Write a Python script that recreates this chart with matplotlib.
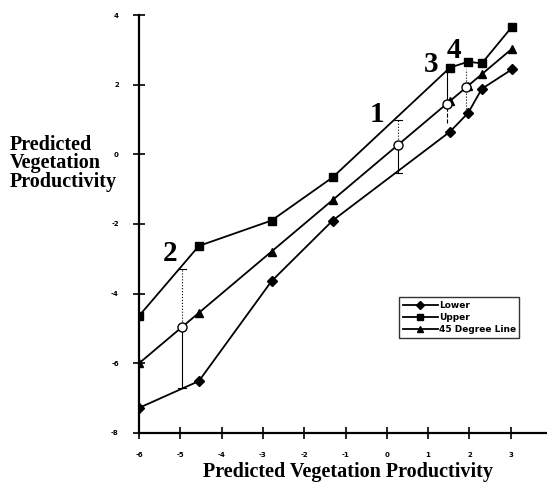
import matplotlib
matplotlib.use("Agg")
import matplotlib.pyplot as plt

# readings
x = [-6.0, -4.55, -2.79, -1.31, 1.53, 1.97, 2.30, 3.03]
lower = [-7.28, -6.51, -3.64, -1.90, 0.65, 1.19, 1.88, 2.44]
upper = [-4.64, -2.63, -1.90, -0.66, 2.49, 2.66, 2.61, 3.66]
deg45 = [-6.0, -4.55, -2.79, -1.31, 1.53, 1.97, 2.30, 3.03]

# numbered intervals: label, x, midpoint, top, bottom
iv_labels = ["2", "1", "3", "4"]
iv_x = [-4.95, 0.28, 1.45, 1.92]
iv_mid = [-4.95, 0.28, 1.45, 1.92]
iv_top = [-3.29, 0.99, 2.49, 2.45]
iv_bot = [-6.72, -0.53, 0.90, 1.30]
lab_x = [-5.25, -0.23, 1.07, 1.63]
lab_y = [-2.84, 1.14, 2.59, 2.97]

xticks = [-6, -5, -4, -3, -2, -1, 0, 1, 2, 3]
yticks = [-8, -6, -4, -2, 0, 2, 4]
ylabel_lines = ["Predicted", "Vegetation", "Productivity"]

serif = "Liberation Serif"

fig = plt.figure(figsize=(5.47, 4.84), dpi=100)
ax = fig.add_axes([0.2541, 0.1054, 0.746, 0.8636])

lw = 1.3
ax.plot(x, lower, "-D", color="black", lw=lw, ms=5, label="Lower", zorder=3)
ax.plot(x, upper, "-s", color="black", lw=lw, ms=6, label="Upper", zorder=3)
ax.plot(x, deg45, "-^", color="black", lw=lw, ms=6, label="45 Degree Line", zorder=3)

# interval lines: style above / below the midpoint
above = [":", ":", "-", ":"]
below = ["-", "-", "--", ":"]
for i in range(len(iv_x)):
    ax.plot([iv_x[i], iv_x[i]], [iv_mid[i], iv_top[i]], ls=above[i], color="black", lw=0.8, zorder=2)
    ax.plot([iv_x[i], iv_x[i]], [iv_bot[i], iv_mid[i]], ls=below[i], color="black", lw=0.8, zorder=2)
    if i < 2:
        ax.plot([iv_x[i] - 0.1, iv_x[i] + 0.1], [iv_top[i], iv_top[i]], color="black", lw=0.8)
        ax.plot([iv_x[i] - 0.1, iv_x[i] + 0.1], [iv_bot[i], iv_bot[i]], color="black", lw=0.8)
    ax.text(lab_x[i], lab_y[i], iv_labels[i], family=serif, fontweight="bold",
            fontsize=21, ha="center", va="center")
ax.plot(iv_x, iv_mid, "o", mfc="white", mec="black", mew=1.0, ms=6.5, zorder=4)

ax.set_xlim(-6, 3.88)
ax.set_ylim(-8, 4)
ax.set_xticks(xticks)
ax.set_yticks(yticks)
ax.set_xticklabels([str(t) for t in xticks], fontsize=5, fontweight="bold")
ax.set_yticklabels([str(t) for t in yticks], fontsize=5, fontweight="bold")
ax.tick_params(direction="inout", length=9, width=1.2, colors="black")
ax.tick_params(axis="x", pad=9)
ax.tick_params(axis="y", pad=10)
for s in ("top", "right"):
    ax.spines[s].set_visible(False)
for s in ("left", "bottom"):
    ax.spines[s].set_linewidth(1.6)

fig.text(0.636, 1 - 477 / 484, "Predicted Vegetation Productivity", family=serif,
         fontweight="bold", fontsize=14.5, ha="center", va="baseline")
for k, line in enumerate(ylabel_lines):
    fig.text(0.018, 1 - (150 + 18.5 * k) / 484, line, family=serif,
             fontweight="bold", fontsize=14.5, ha="left", va="baseline")

leg = ax.legend(loc="upper left", bbox_to_anchor=(0.637, 0.325),
                prop={"weight": "bold", "size": 6.5}, handlelength=3.9, frameon=True,
                fancybox=False, borderpad=0.4, labelspacing=0.35, handletextpad=0.1,
                borderaxespad=0, markerscale=0.8)
leg.get_frame().set_edgecolor("black")
leg.get_frame().set_linewidth(1.0)

fig.savefig("out.png", dpi=100)
